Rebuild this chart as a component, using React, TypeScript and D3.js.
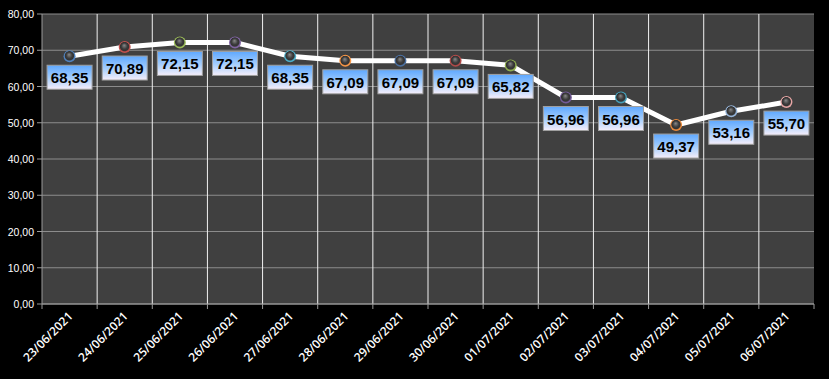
import React from "react";
import * as d3 from "d3";

const categories = ["23/06/2021","24/06/2021","25/06/2021","26/06/2021","27/06/2021","28/06/2021","29/06/2021","30/06/2021","01/07/2021","02/07/2021","03/07/2021","04/07/2021","05/07/2021","06/07/2021"];
const values = [68.35,70.89,72.15,72.15,68.35,67.09,67.09,67.09,65.82,56.96,56.96,49.37,53.16,55.70];
const markerColors = ["#4f81bd","#c0504d","#9bbb59","#8064a2","#4bacc6","#f79646","#4a6fa0","#b04a48","#8fae50","#735a98","#45a0ba","#e8893c","#95b3d7","#e6a5a4"];
const yTicks = [0,10,20,30,40,50,60,70,80];

const W = 829, H = 379;
const left = 42, right = 814, top = 14, bottom = 304;

const fmt = (v: number) => v.toFixed(2).replace(".", ",");

export default function App() {
  const x = d3.scaleBand<string>().domain(categories).range([left, right]).padding(0);
  const y = d3.scaleLinear().domain([0, 80]).range([bottom, top]);
  const cx = (c: string) => (x(c) as number) + x.bandwidth() / 2;
  const line = d3.line<number>().x((_, i) => cx(categories[i])).y(v => y(v));
  const bounds = categories.map(c => x(c) as number).concat([right]);

  return (
    <svg width={W} height={H} style={{ position: "absolute", left: 0, top: 0, background: "#000" }}>
      <defs>
        <linearGradient id="lbl" x1="0" y1="0" x2="0" y2="1">
          <stop offset="0" stopColor="#5ea8ff" />
          <stop offset="0.55" stopColor="#a8cffc" />
          <stop offset="1" stopColor="#f6eefa" />
        </linearGradient>
        {markerColors.map((c, i) => (
          <radialGradient key={i} id={"m" + i} cx="0.5" cy="0.5" r="0.5" fx="0.45" fy="0.35">
            <stop offset="0" stopColor="#8a8a8a" />
            <stop offset="0.5" stopColor="#3c3c3c" />
            <stop offset="0.7" stopColor="#333333" />
            <stop offset="0.85" stopColor={c} />
            <stop offset="1" stopColor={c} />
          </radialGradient>
        ))}
      </defs>
      <rect x={0} y={0} width={W} height={H} fill="#000" />
      <rect x={left} y={top} width={right - left} height={bottom - top} fill="#404040" />
      {yTicks.map(t => (
        <g key={t}>
          <line x1={left} x2={right} y1={y(t)} y2={y(t)} stroke="#8c8c8c" strokeWidth={1} />
          <line x1={left - 5} x2={left} y1={y(t)} y2={y(t)} stroke="#9a9a9a" strokeWidth={1} />
          <text x={34} y={y(t) + 4} textAnchor="end" fill="#fff" fontFamily="Liberation Sans, Arial, sans-serif" fontSize={10.5}>{fmt(t)}</text>
        </g>
      ))}
      {bounds.slice(1, -1).map((b, i) => (
        <line key={i} x1={b} x2={b} y1={top} y2={bottom} stroke="#f0f0f0" strokeWidth={1} />
      ))}
      <line x1={left} x2={left} y1={top} y2={bottom} stroke="#9a9a9a" />
      <line x1={left} x2={right} y1={bottom} y2={bottom} stroke="#9a9a9a" />
      {bounds.map((b, i) => (
        <line key={i} x1={b} x2={b} y1={bottom} y2={bottom + 5} stroke="#9a9a9a" />
      ))}
      {categories.map(c => (
        <text key={c} transform={`translate(${cx(c) + 4},${317}) rotate(-45)`} textAnchor="end" fill="#fff" fontFamily="Open Sans, sans-serif" fontWeight={600} fontSize={12}>{c}</text>
      ))}
      <path d={line(values) || ""} fill="none" stroke="#fff" strokeWidth={5} strokeLinejoin="round" strokeLinecap="round" />
      {values.map((v, i) => (
        <circle key={i} cx={cx(categories[i])} cy={y(v)} r={6} fill={`url(#m${i})`} />
      ))}
      {values.map((v, i) => {
        const px = cx(categories[i]);
        const py = y(v);
        return (
          <g key={"l" + i}>
            <rect x={px - 22.5} y={py + 9} width={45} height={24} fill="url(#lbl)" stroke="#a0a0a0" strokeWidth={1} />
            <text x={px} y={py + 27} textAnchor="middle" fill="#000" fontFamily="Liberation Sans, Arial, sans-serif" fontWeight="bold" fontSize={15}>{fmt(v)}</text>
          </g>
        );
      })}
    </svg>
  );
}
